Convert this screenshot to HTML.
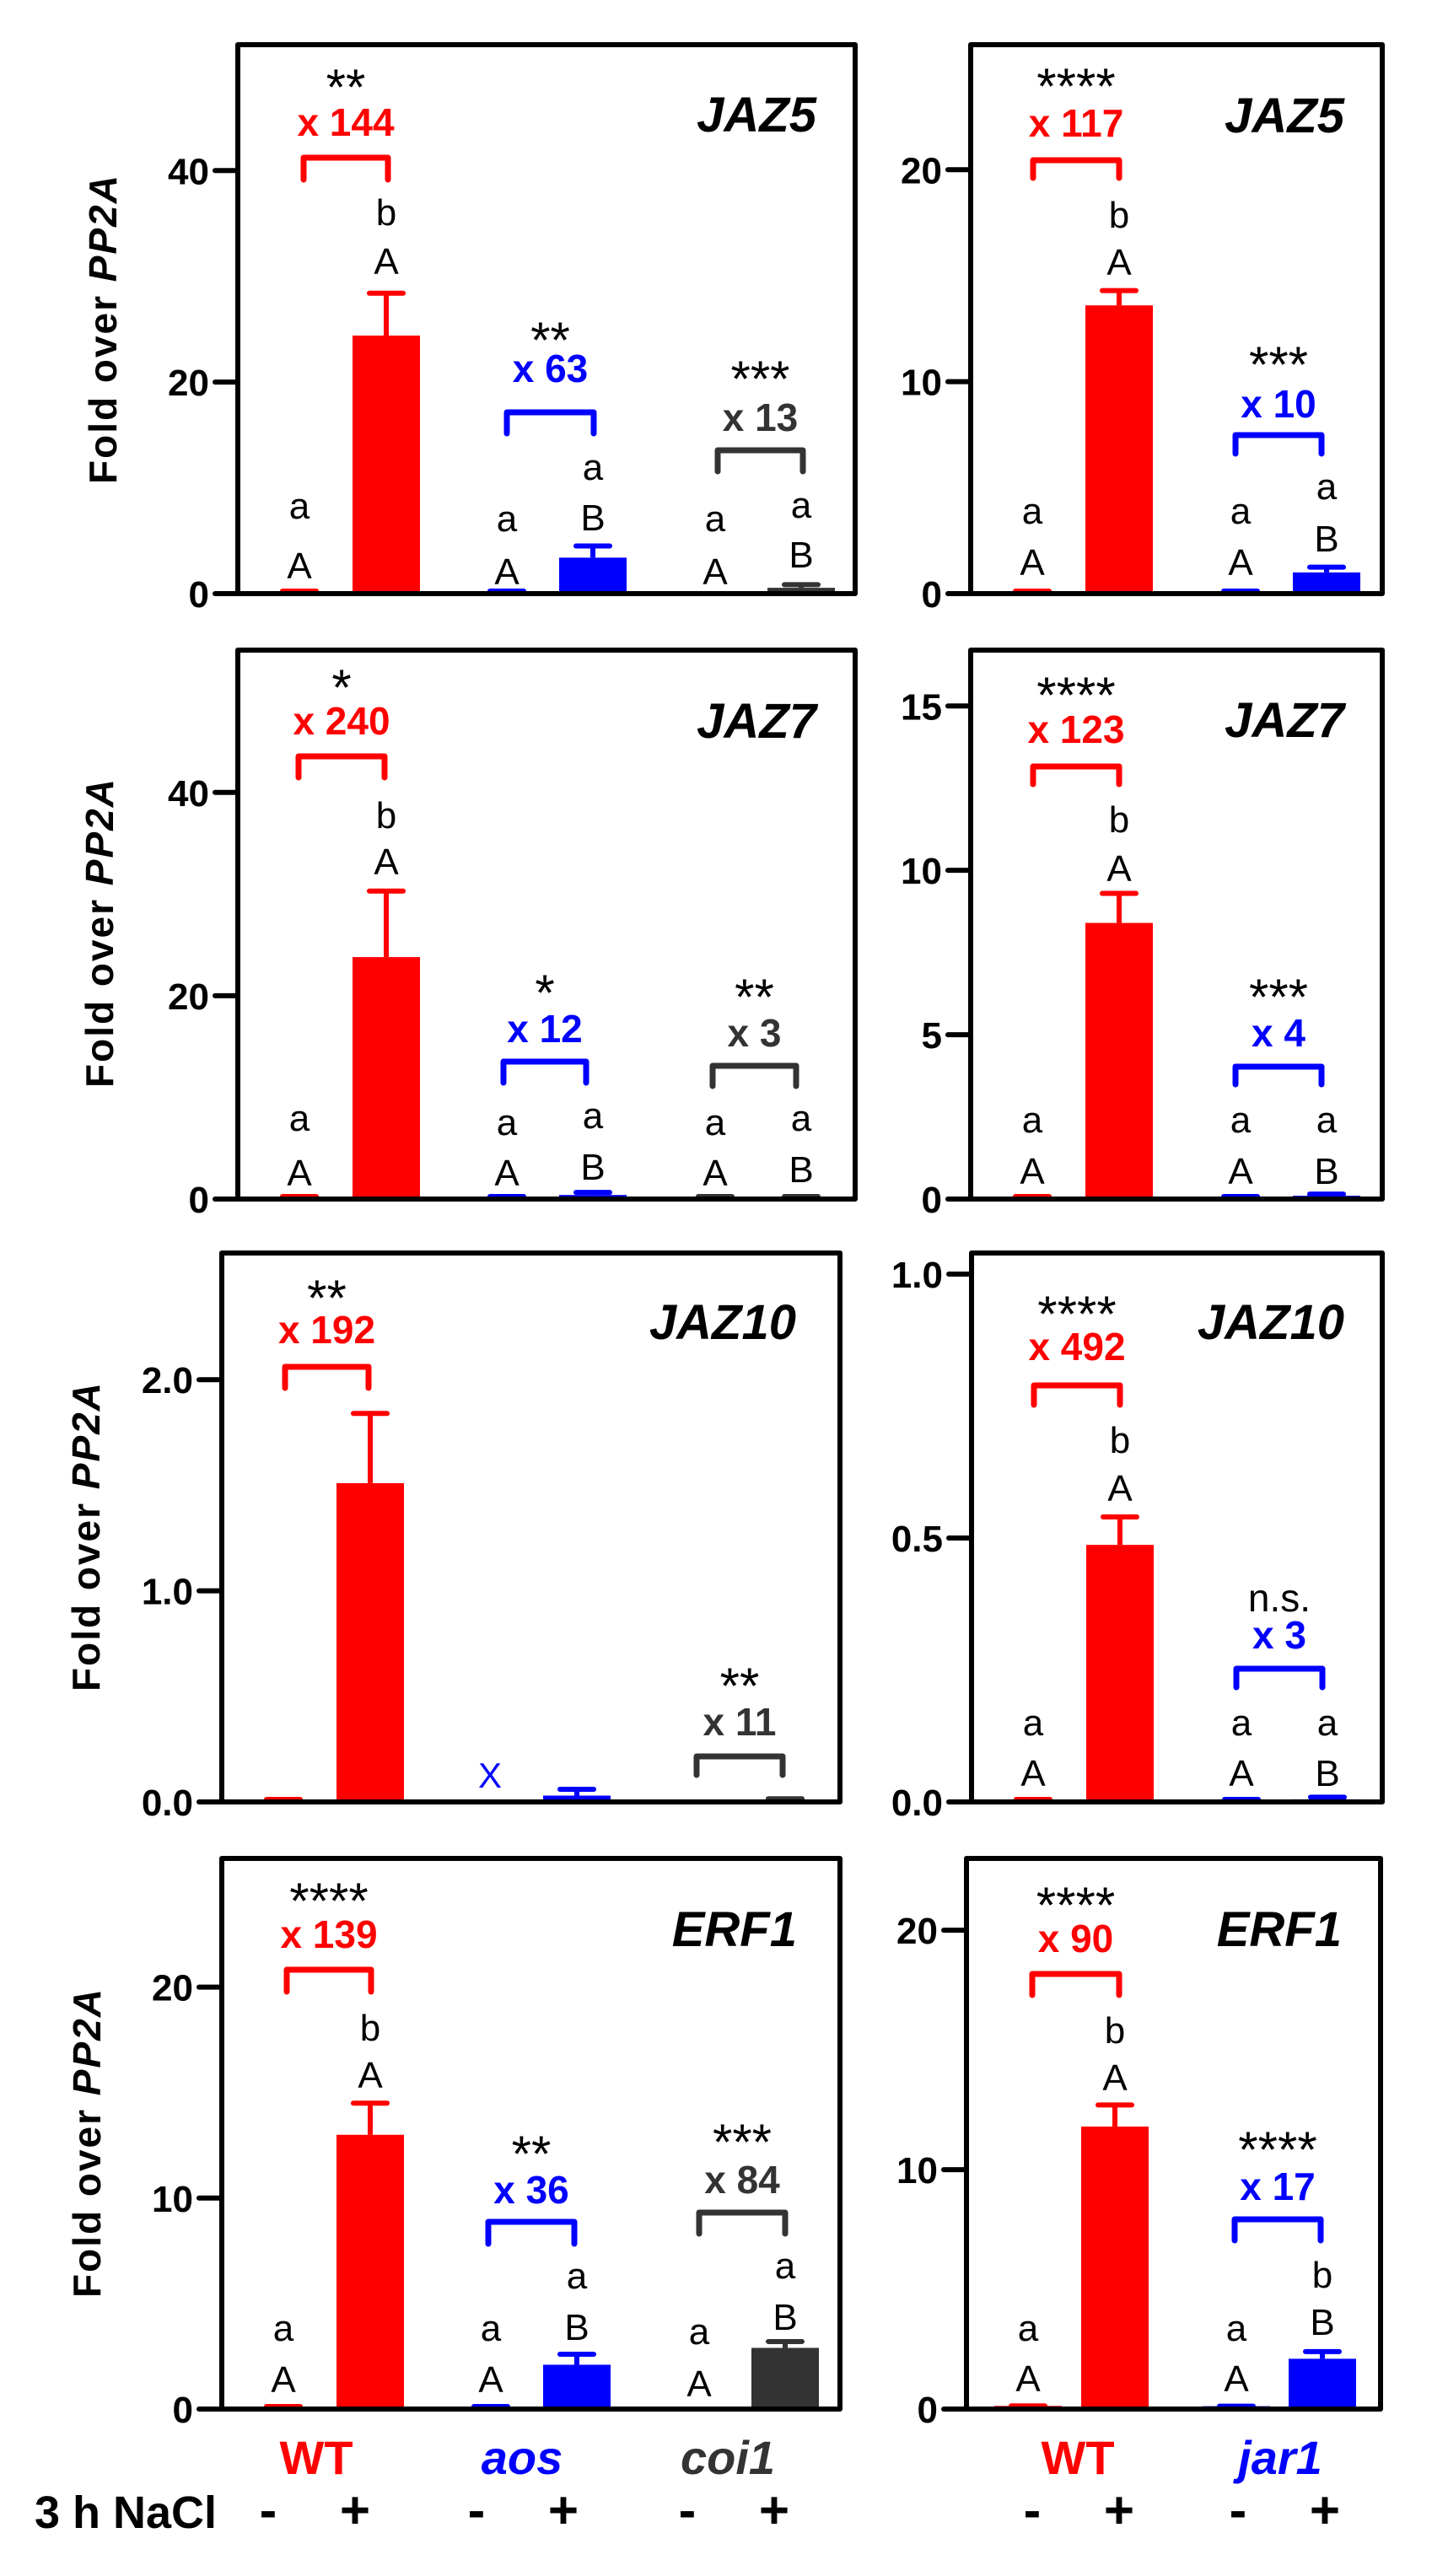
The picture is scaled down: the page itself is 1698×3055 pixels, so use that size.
<!DOCTYPE html>
<html><head><meta charset="utf-8"><style>
html,body{margin:0;padding:0;background:#fff;}
svg{display:block;font-family:"Liberation Sans",Arial,sans-serif;}
</style></head><body>
<svg id="fig" width="1698" height="3055" viewBox="0 0 1698 3055" xmlns="http://www.w3.org/2000/svg"></svg>
<script>
// ---------- data ----------
const genes = ['JAZ5','JAZ7','JAZ10','ERF1'];
const leftCategories = ['WT -','WT +','aos -','aos +','coi1 -','coi1 +'];
const rightCategories = ['WT -','WT +','jar1 -','jar1 +'];
const leftMeans = [
  [0.17, 24.4, 0.1, 3.4, null, 0.55],
  [0.1, 23.8, 0.0, 0.4, 0.05, 0.1],
  [0.005, 1.51, null, 0.03, null, 0.01],
  [0.09, 13.0, 0.06, 2.1, null, 2.9]
];
const leftErrs = [
  [0, 4.0, 0, 1.1, 0, 0.3],
  [0, 6.5, 0, 0.25, 0, 0.05],
  [0, 0.33, 0, 0.03, 0, 0.005],
  [0, 1.5, 0, 0.5, 0, 0.3]
];
const rightMeans = [
  [0.12, 13.6, 0.1, 1.0],
  [0.07, 8.4, 0.05, 0.1],
  [0.001, 0.487, 0.001, 0.005],
  [0.13, 11.8, 0.12, 2.1]
];
const rightErrs = [
  [0, 0.7, 0, 0.25],
  [0, 0.9, 0, 0.05],
  [0, 0.053, 0, 0.004],
  [0, 0.9, 0, 0.3]
];
const leftTicks = [[0,20,40],[0,20,40],[0,1,2],[0,10,20]];
const leftTickLabels = [['0','20','40'],['0','20','40'],['0.0','1.0','2.0'],['0','10','20']];
const rightTicks = [[0,10,20],[0,5,10,15],[0,0.5,1],[0,10,20]];
const rightTickLabels = [['0','10','20'],['0','5','10','15'],['0.0','0.5','1.0'],['0','10','20']];
const leftMax = [51.9, 54.0, 2.6, 26.1];
const rightMax = [25.9, 16.7, 1.04, 23.0];

// ---------- layout ----------
const NS = 'http://www.w3.org/2000/svg';
const svg = document.getElementById('fig');
const RED = '#ff0000', BLUE = '#0000ff', DARK = '#333333';
const leftColors = [RED, RED, BLUE, BLUE, DARK, DARK];
const rightColors = [RED, RED, BLUE, BLUE];
const leftOffsets = [73, 176, 319, 421, 566, 668];
const rightOffsets = [73, 176, 320, 422];
const rows = [
  {top:53, axis:704, lL:282, lR:1014, rL:1151, rR:1639},
  {top:771, axis:1422, lL:282, lR:1014, rL:1151, rR:1639},
  {top:1486, axis:2137, lL:263, lR:996, rL:1152, rR:1639},
  {top:2204, axis:2857, lL:263, lR:996, rL:1146, rR:1637}
];

function el(tag, attrs, parent, text) {
  const e = document.createElementNS(NS, tag);
  for (const k in attrs) e.setAttribute(k, attrs[k]);
  if (text !== undefined) e.textContent = text;
  (parent || svg).appendChild(e);
  return e;
}
function txt(parent, x, y, s, size, opts) {
  opts = opts || {};
  const t = el('text', {x:x, y:y, 'font-size':size, 'text-anchor':opts.anchor||'middle',
    'font-weight':opts.bold?'bold':'normal', 'font-style':opts.italic?'italic':'normal',
    fill:opts.fill||'#000'}, parent, s);
  return t;
}

function drawPanel(name, L, R, top, axis, maxV, ticks, tickLabels, offsets, colors, means, errs) {
  const g = el('g', {});
  
  
  const y = v => axis - v / maxV * (axis - top);
  means.forEach((m, i) => {
    if (m === null) return;
    const cx = L + offsets[i];
    const yt = y(m);
    const b = el('rect', {x:cx-40, y:yt, width:80, height:Math.max(0, axis-yt), fill:colors[i]}, g);
    
    
    const ye = y(m + errs[i]);
    if (errs[i] > 0) {
      const l = el('line', {x1:cx, x2:cx, y1:yt, y2:ye, stroke:colors[i], 'stroke-width':6}, g);
      
      
    }
    const c = el('line', {x1:cx-20, x2:cx+20, y1:Math.min(ye, axis-3), y2:Math.min(ye, axis-3), stroke:colors[i], 'stroke-width':6, 'stroke-linecap':'round'}, g);
    
    
  });
  const f = el('rect', {x:L, y:top, width:R-L, height:axis-top, fill:'none', stroke:'#000', 'stroke-width':6, 'stroke-linejoin':'round'}, g);
  
  
  ticks.forEach((t, i) => {
    const ty = y(t);
    const tk = el('line', {x1:L-27, x2:L, y1:ty, y2:ty, stroke:'#000', 'stroke-width':6, 'stroke-linecap':'round'}, g);
    
    
    const tl = txt(g, L-34, ty+16, tickLabels[i], 44, {bold:true, anchor:'end'});
    
    
  });
  return g;
}

function bracket(g, x1, x2, yt, yb, color) {
  const p = el('path', {d:`M${x1},${yb} L${x1},${yt} L${x2},${yt} L${x2},${yb}`, fill:'none', stroke:color, 'stroke-width':7, 'stroke-linecap':'round', 'stroke-linejoin':'round'}, g);
  
  
}
function note(g, x, y, s, size, opts, name) {
  const t = txt(g, x, y, s, size, opts);
  
  
  return t;
}
function comp(g, x1, x2, stars, starsY, fold, foldY, bTop, bBot, color) {
  const cx = (x1 + x2) / 2;
  if (stars.indexOf('*') >= 0) note(g, cx, starsY, stars, 60, {}, 'significance-stars');
  else note(g, cx, starsY, stars, 46, {}, 'significance-label');
  note(g, cx, foldY, fold, 46, {bold:true, fill:color}, 'fold-change-label');
  bracket(g, x1, x2, bTop, bBot, color);
}
function letters(g, cx, lowY, low, upY, up) {
  note(g, cx, lowY, low, 44, {}, 'group-letter-lower');
  note(g, cx, upY, up, 44, {}, 'group-letter-upper');
}
function geneTitle(g, xr, y, s) {
  note(g, xr, y, s, 58, {bold:true, italic:true, anchor:'end'}, 'gene-title');
}
function yTitle(cx, cy) {
  const t = el('text', {x:0, y:0, 'font-size':46, 'font-weight':'bold', 'text-anchor':'middle', 'letter-spacing':2,
    transform:`translate(${cx+16},${cy}) rotate(-90)`});
  
  
  el('tspan', {}, t, 'Fold over ');
  el('tspan', {'font-style':'italic'}, t, 'PP2A');
}

const panelsL = [], panelsR = [];
rows.forEach((r, i) => {
  panelsL.push(drawPanel('panel-left-' + genes[i].toLowerCase(), r.lL, r.lR, r.top, r.axis, leftMax[i], leftTicks[i], leftTickLabels[i], leftOffsets, leftColors, leftMeans[i], leftErrs[i]));
  panelsR.push(drawPanel('panel-right-' + genes[i].toLowerCase(), r.rL, r.rR, r.top, r.axis, rightMax[i], rightTicks[i], rightTickLabels[i], rightOffsets, rightColors, rightMeans[i], rightErrs[i]));
});

// ----- Row 1 -----
let g = panelsL[0], L = 282;
comp(g, 360, 460, '**', 124, 'x 144', 161, 187, 213, RED);
letters(g, L+176, 267, 'b', 325, 'A');
letters(g, L+73, 615, 'a', 686, 'A');
comp(g, 601, 704, '**', 424, 'x 63', 453, 489, 514, BLUE);
letters(g, L+421, 569, 'a', 629, 'B');
letters(g, L+319, 630, 'a', 693, 'A');
comp(g, 851, 952, '***', 470, 'x 13', 511, 534, 559, DARK);
letters(g, L+668, 614, 'a', 673, 'B');
letters(g, L+566, 630, 'a', 693, 'A');
geneTitle(g, 968, 156, 'JAZ5');

g = panelsR[0]; L = 1151;
comp(g, 1225, 1327, '****', 123, 'x 117', 162, 190, 211, RED);
letters(g, L+176, 270, 'b', 326, 'A');
letters(g, L+73, 621, 'a', 682, 'A');
comp(g, 1465, 1567, '***', 453, 'x 10', 495, 516, 538, BLUE);
letters(g, L+422, 592, 'a', 654, 'B');
letters(g, L+320, 621, 'a', 682, 'A');
geneTitle(g, 1594, 157, 'JAZ5');

// ----- Row 2 -----
g = panelsL[1]; L = 282;
comp(g, 354, 456, '*', 836, 'x 240', 871, 897, 922, RED);
letters(g, L+176, 982, 'b', 1037, 'A');
letters(g, L+73, 1341, 'a', 1406, 'A');
comp(g, 597, 695, '*', 1198, 'x 12', 1236, 1259, 1284, BLUE);
letters(g, L+421, 1338, 'a', 1399, 'B');
letters(g, L+319, 1346, 'a', 1406, 'A');
comp(g, 845, 944, '**', 1203, 'x 3', 1241, 1264, 1288, DARK);
letters(g, L+668, 1341, 'a', 1402, 'B');
letters(g, L+566, 1346, 'a', 1406, 'A');
geneTitle(g, 968, 875, 'JAZ7');

g = panelsR[1]; L = 1151;
comp(g, 1225, 1327, '****', 845, 'x 123', 881, 909, 930, RED);
letters(g, L+176, 987, 'b', 1045, 'A');
letters(g, L+73, 1343, 'a', 1404, 'A');
comp(g, 1465, 1567, '***', 1203, 'x 4', 1241, 1265, 1286, BLUE);
letters(g, L+422, 1343, 'a', 1404, 'B');
letters(g, L+320, 1343, 'a', 1404, 'A');
geneTitle(g, 1594, 874, 'JAZ7');

// ----- Row 3 -----
g = panelsL[2]; L = 263;
comp(g, 338, 437, '**', 1560, 'x 192', 1593, 1621, 1646, RED);
note(g, 581, 2120, 'X', 42, {fill:BLUE}, 'missing-data-mark');
comp(g, 826, 928, '**', 2020, 'x 11', 2058, 2083, 2105, DARK);
geneTitle(g, 944, 1588, 'JAZ10');

g = panelsR[2]; L = 1152;
comp(g, 1226, 1328, '****', 1579, 'x 492', 1613, 1643, 1666, RED);
letters(g, L+176, 1723, 'b', 1780, 'A');
letters(g, L+73, 2058, 'a', 2118, 'A');
comp(g, 1466, 1568, 'n.s.', 1911, 'x 3', 1955, 1979, 2001, BLUE);
letters(g, L+422, 2058, 'a', 2118, 'B');
letters(g, L+320, 2058, 'a', 2118, 'A');
geneTitle(g, 1594, 1588, 'JAZ10');

// ----- Row 4 -----
g = panelsL[3]; L = 263;
comp(g, 340, 440, '****', 2275, 'x 139', 2310, 2336, 2362, RED);
letters(g, L+176, 2420, 'b', 2476, 'A');
letters(g, L+73, 2776, 'a', 2837, 'A');
comp(g, 579, 681, '**', 2575, 'x 36', 2613, 2635, 2661, BLUE);
letters(g, L+421, 2714, 'a', 2775, 'B');
letters(g, L+319, 2776, 'a', 2837, 'A');
comp(g, 829, 931, '***', 2561, 'x 84', 2601, 2624, 2649, DARK);
letters(g, L+668, 2702, 'a', 2763, 'B');
letters(g, L+566, 2780, 'a', 2842, 'A');
geneTitle(g, 945, 2308, 'ERF1');

g = panelsR[3]; L = 1146;
comp(g, 1224, 1327, '****', 2280, 'x 90', 2315, 2341, 2366, RED);
letters(g, L+176, 2423, 'b', 2479, 'A');
letters(g, L+73, 2776, 'a', 2836, 'A');
comp(g, 1464, 1566, '****', 2570, 'x 17', 2609, 2632, 2657, BLUE);
letters(g, L+422, 2713, 'b', 2769, 'B');
letters(g, L+320, 2776, 'a', 2836, 'A');
geneTitle(g, 1591, 2308, 'ERF1');

// ----- Y axis titles -----
yTitle(122, 390);
yTitle(118, 1106);
yTitle(102, 1822);
yTitle(103, 2541);

// ----- Genotype & treatment labels -----
const xl = el('g', {});


note(xl, 375, 2934, 'WT', 56, {bold:true, fill:RED}, 'genotype-label-wt');
note(xl, 619, 2934, 'aos', 56, {bold:true, italic:true, fill:BLUE}, 'genotype-label-aos');
note(xl, 863, 2934, 'coi1', 56, {bold:true, italic:true, fill:DARK}, 'genotype-label-coi1');
note(xl, 1278, 2934, 'WT', 56, {bold:true, fill:RED}, 'genotype-label-wt-right');
note(xl, 1518, 2934, 'jar1', 56, {bold:true, italic:true, fill:BLUE}, 'genotype-label-jar1');
note(xl, 41, 2998, '3 h NaCl', 54, {bold:true, anchor:'start'}, 'treatment-label');
const signX = [318, 421, 565, 668, 815, 918, 1224, 1327, 1468, 1571];
signX.forEach((x, i) => {
  note(xl, x, 2998, i % 2 ? '+' : '-', 62, {bold:true}, i % 2 ? 'treatment-plus' : 'treatment-minus');
});
</script>
</body></html>
